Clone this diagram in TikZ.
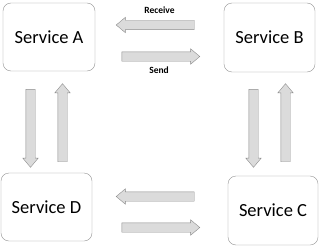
\documentclass[tikz,border=0pt]{standalone}
\usepackage{fontspec}
\setmainfont{Carlito}
\usetikzlibrary{shapes.arrows}

\begin{document}
\begin{tikzpicture}[
  x=1pt, y=-1pt,
  box/.style={rectangle, draw=gray!85, rounded corners=8pt, align=center, font=\fontsize{18.5}{22}\selectfont, inner sep=3pt},
  blockarrow/.style={single arrow, draw=gray!90, fill=gray!28, inner xsep=0pt, inner ysep=4.5pt, minimum height=78pt, single arrow head extend=3pt, single arrow tip angle=80},
  tag/.style={font=\fontsize{9.5}{11}\selectfont\bfseries, text=black},
]
\useasboundingbox (0,0) rectangle (320,246);

% === SERVICES ===
\node[box, minimum width=92pt, minimum height=68pt] (srvA) at (49, 37) {Service A};
\node[box, minimum width=91pt, minimum height=69pt] (srvB) at (269.5, 37.5) {Service B};
\node[box, minimum width=91pt, minimum height=68pt] (srvD) at (46.5, 207) {Service D};
\node[box, minimum width=90pt, minimum height=69pt] (srvC) at (273, 210.5) {Service C};

% === TOP: A <-> B ===
\node[blockarrow, rotate=180] (recvAB) at (158, 25) {};
\node[blockarrow] (sendAB) at (158, 56.5) {};
\node[tag] (recv) at (159.5, 10) {Receive};
\node[tag] (send) at (159, 70) {Send};

% === BOTTOM: D <-> C ===
\node[blockarrow, rotate=180] (leftDC) at (158, 196.5) {};
\node[blockarrow] (rightDC) at (158, 227.5) {};

% === VERTICAL: A <-> D, B <-> C ===
\node[blockarrow, rotate=-90] (downAD) at (30.5, 125.5) {};
\node[blockarrow, rotate=90] (upDA) at (62.5, 125.5) {};
\node[blockarrow, rotate=-90] (downBC) at (253.5, 125.5) {};
\node[blockarrow, rotate=90] (upCB) at (285.5, 125.5) {};
\end{tikzpicture}
\end{document}
